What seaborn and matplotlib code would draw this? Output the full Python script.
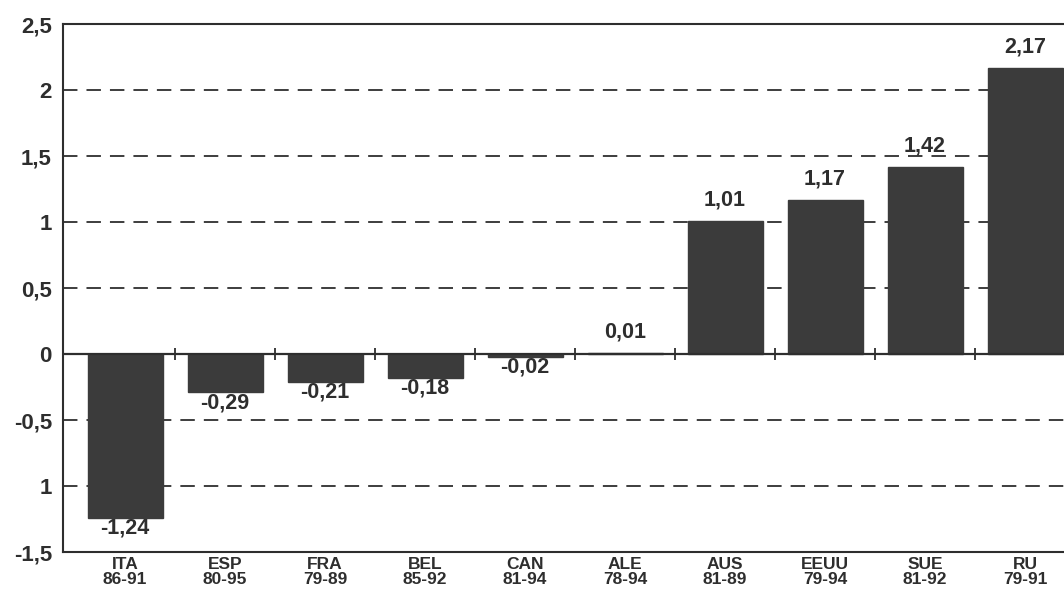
import numpy as np
import pandas as pd
import matplotlib
matplotlib.use("Agg")
import matplotlib.pyplot as plt
import seaborn as sns

# DATA
paises = ["ITA", "ESP", "FRA", "BEL", "CAN", "ALE", "AUS", "EEUU", "SUE", "RU"]
periodos = ["86-91", "80-95", "79-89", "85-92", "81-94", "78-94", "81-89", "79-94", "81-92", "79-91"]
valores = [-1.24, -0.29, -0.21, -0.18, -0.02, 0.01, 1.01, 1.17, 1.42, 2.17]
yticks = [-1.5, -1.0, -0.5, 0.0, 0.5, 1.0, 1.5, 2.0, 2.5]
ytick_labels = ["-1,5", "1", "-0,5", "0", "0,5", "1", "1,5", "2", "2,5"]

df = pd.DataFrame({"pais": [p + "\n" + q for p, q in zip(paises, periodos)],
                   "valor": valores})

sns.set_style("white")
plt.rcParams["font.family"] = ["Liberation Sans", "DejaVu Sans"]

fig = plt.figure(figsize=(10.64, 5.9), dpi=100)
ax = fig.add_axes([63 / 1064, 38 / 590, 1 - 63 / 1064, (552 - 24) / 590])

ink = "#2e2e2e"

# grid lines behind the bars
for t in yticks[1:-1]:
    if t == 0:
        continue
    ax.axhline(t, color=ink, lw=1.3, ls=(0, (8, 5)), zorder=0)

sns.barplot(data=df, x="pais", y="valor", color="#3b3b3b", width=0.75,
            saturation=1, edgecolor="#3b3b3b", ax=ax, zorder=2)

ax.axhline(0, color=ink, lw=1.6, zorder=3)
bounds = np.arange(len(paises)) + 0.5
ax.plot(bounds, np.zeros(len(bounds)), "|", color=ink, ms=8, mew=1.3, zorder=3)

# value labels
for i, v in enumerate(valores):
    txt = f"{v:.2f}".replace(".", ",")
    if v >= 0:
        ax.annotate(txt, (i, v), xytext=(0, 7), textcoords="offset points",
                    ha="center", va="bottom", fontsize=15.5, fontweight="bold", color=ink)
    else:
        ax.annotate(txt, (i, v), xytext=(0, 0), textcoords="offset points",
                    ha="center", va="top", fontsize=15.5, fontweight="bold", color=ink)

ax.set_ylim(-1.5, 2.5)
ax.set_xlim(-0.62, 9.39)
ax.set_yticks(yticks)
ax.set_yticklabels(ytick_labels, fontsize=16, fontweight="bold", color=ink)
ax.set_xticklabels(df["pais"], fontsize=12.5, fontweight="bold", color=ink, linespacing=1.0)
ax.tick_params(axis="y", direction="inout", length=10, width=1.2, color=ink, pad=3)
ax.tick_params(axis="x", length=0, pad=3.5)
ax.set_xlabel("")
ax.set_ylabel("")

for s in ["left", "top", "bottom"]:
    ax.spines[s].set_color(ink)
    ax.spines[s].set_linewidth(1.5)
ax.spines["right"].set_visible(False)

fig.savefig("out.png", dpi=100, facecolor="white")
